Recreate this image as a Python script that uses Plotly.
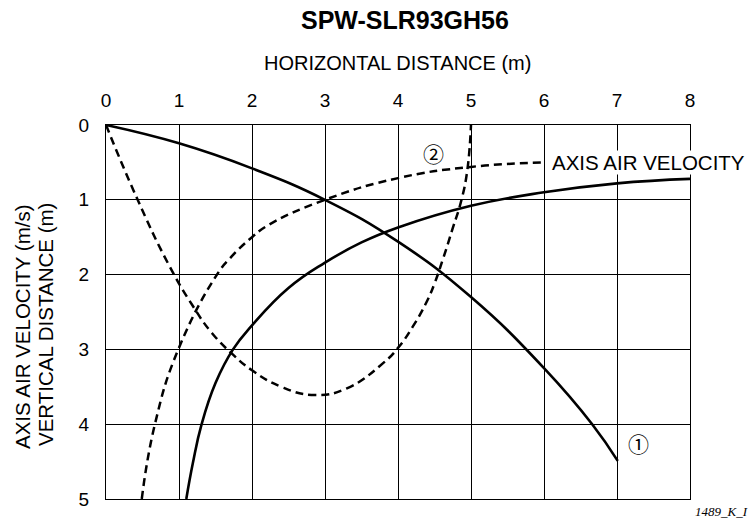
import plotly.graph_objects as go

# Curve ① : vertical distance (solid)
traj1_x = [0, 1, 2, 3, 4, 5, 6, 6.66, 7.01]
traj1_y = [0, 0.245, 0.58, 1.0, 1.56, 2.3, 3.25, 4.0, 4.49]

# Curve ① : axis air velocity (solid)
vel1_x = [1.1, 1.19, 1.31, 1.5, 1.74, 2.0, 2.5, 3.0, 3.5, 4.0, 5.0, 6.0, 7.0, 8.0]
vel1_y = [5.0, 4.52, 4.0, 3.45, 3.0, 2.68, 2.18, 1.84, 1.57, 1.37, 1.08, 0.9, 0.78, 0.72]

# Curve ② : vertical distance (dashed)
traj2_x = [0, 0.42, 0.85, 1.19, 1.45, 1.74, 2.0, 2.4, 2.86, 3.3, 3.8, 4.0, 4.2, 4.4, 4.5, 4.62, 4.75, 4.87, 4.95, 5.0]
traj2_y = [0, 0.97, 1.85, 2.42, 2.78, 3.07, 3.28, 3.5, 3.61, 3.52, 3.18, 2.98, 2.7, 2.35, 2.12, 1.78, 1.38, 1.0, 0.6, 0.0]

# Curve ② : axis air velocity (dashed)
vel2_x = [0.49, 0.67, 0.99, 1.52, 1.7, 2.0, 2.22, 3.0, 4.0, 5.0, 6.0]
vel2_y = [5.0, 4.0, 3.0, 2.0, 1.78, 1.5, 1.34, 1.0, 0.71, 0.56, 0.5]

x_ticks = [0, 1, 2, 3, 4, 5, 6, 7, 8]
y_ticks = [0, 1, 2, 3, 4, 5]

FONT = "Liberation Sans, Arial, sans-serif"
W, H = 753, 523
ML, MR, MT, MB = 106, 63, 125, 24

fig = go.Figure()

line_solid = dict(color="black", width=2.6, shape="spline", smoothing=1.3)
line_dash = dict(color="black", width=2.5, dash="8px,5px", shape="spline", smoothing=1.3)

fig.add_trace(go.Scatter(x=traj1_x, y=traj1_y, mode="lines", line=line_solid, hoverinfo="skip"))
fig.add_trace(go.Scatter(x=vel1_x, y=vel1_y, mode="lines", line=line_solid, hoverinfo="skip"))
fig.add_trace(go.Scatter(x=traj2_x, y=traj2_y, mode="lines", line=line_dash, hoverinfo="skip"))
fig.add_trace(go.Scatter(x=vel2_x, y=vel2_y, mode="lines", line=line_dash, hoverinfo="skip"))

axis_common = dict(
    showgrid=True, gridcolor="black", gridwidth=1,
    showline=True, linecolor="black", linewidth=1.2, mirror=True,
    zeroline=False, ticks="", tickfont=dict(family=FONT, size=19, color="black"),
)

fig.update_xaxes(range=[0, 8], side="top", tickvals=x_ticks, ticktext=[str(v) for v in x_ticks],
                 ticklabelstandoff=9, **axis_common)
fig.update_yaxes(range=[5, 0], tickvals=y_ticks, ticktext=[str(v) for v in y_ticks],
                 ticklabelstandoff=12, **axis_common)

fig.update_layout(
    width=W, height=H,
    margin=dict(l=ML, r=MR, t=MT, b=MB),
    paper_bgcolor="white", plot_bgcolor="white",
    showlegend=False,
    font=dict(family=FONT, color="black"),
)


def px_ann(text, xpx, ypx, size, **kw):
    # place text by pixel position on the whole figure
    fam = kw.pop("family", FONT)
    fig.add_annotation(text=text, xref="paper", yref="paper",
                       x=(xpx - ML) / (W - ML - MR), y=(H - MB - ypx) / (H - MT - MB),
                       showarrow=False, font=dict(family=fam, size=size, color="black"),
                       **kw)


px_ann("<b>SPW-SLR93GH56</b>", 405, 20, 25, xanchor="center", yanchor="middle")
px_ann("HORIZONTAL DISTANCE (m)", 397, 63, 20, xanchor="center", yanchor="middle")
px_ann("AXIS AIR VELOCITY (m/s)", 22, 327, 20.5, xanchor="center", yanchor="middle", textangle=-90)
px_ann("VERTICAL DISTANCE (m)", 45, 325, 20.5, xanchor="center", yanchor="middle", textangle=-90)
px_ann("<i>1489_K_I</i>", 750, 512, 13, xanchor="right", yanchor="middle",
       family="Liberation Serif, Times New Roman, serif")

# curve labels in data coordinates
fig.add_annotation(text="AXIS AIR VELOCITY", x=6.1, y=0.5, xref="x", yref="y", showarrow=False,
                   xanchor="left", yanchor="middle", bgcolor="white", borderpad=0,
                   font=dict(family=FONT, size=20.5, color="black"))
fig.add_annotation(text="②", x=4.48, y=0.37, xref="x", yref="y", showarrow=False,
                   font=dict(family="Noto Sans CJK JP, sans-serif", size=21, color="black"))
fig.add_annotation(text="①", x=7.29, y=4.25, xref="x", yref="y", showarrow=False,
                   font=dict(family="Noto Sans CJK JP, sans-serif", size=21, color="black"))

fig.write_html("out.html")
